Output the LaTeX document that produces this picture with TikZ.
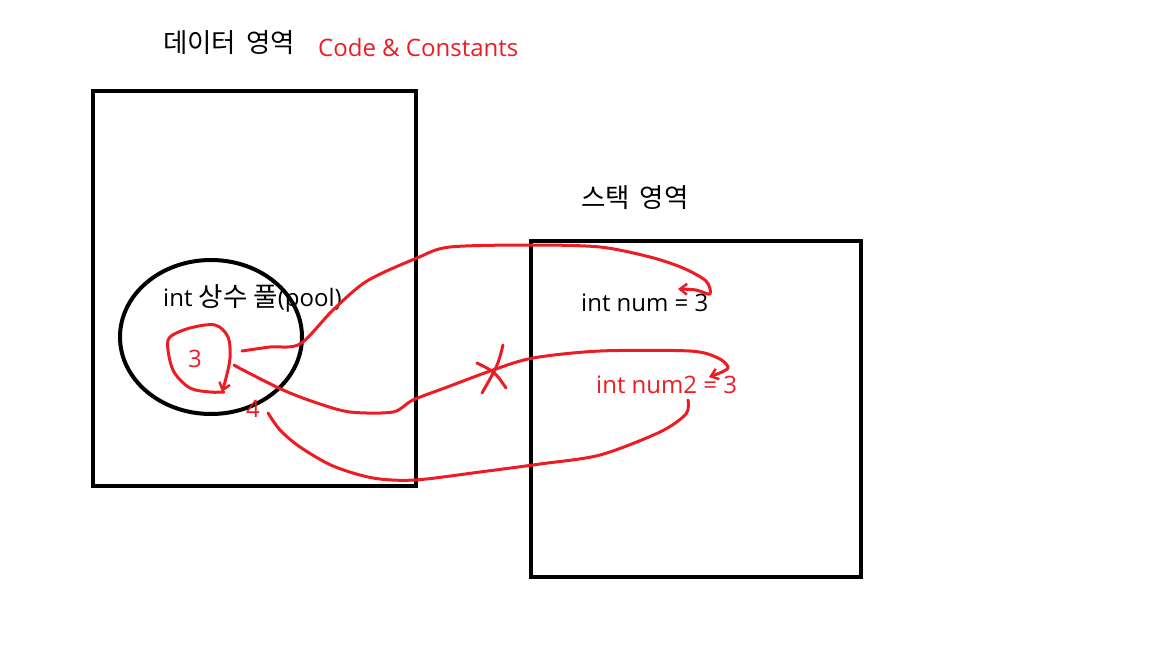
\documentclass[tikz,border=0pt]{standalone}
\usepackage{fontspec}
\setmainfont{Open Sans}
\newfontfamily\krfont{Noto Sans CJK KR}
\newcommand{\kr}{\krfont\fontsize{26.5}{30}\selectfont}
\usetikzlibrary{arrows.meta}
\definecolor{pred}{HTML}{ED1C24}
\tikzset{
  box/.style={draw=black,line width=4.5pt},
  lbl/.style={inner sep=0pt,anchor=base west,font=\fontsize{24}{28}\selectfont},
  redlbl/.style={lbl,text=pred},
  stroke/.style={draw=pred,line width=3pt,line cap=round,line join=round},
  barb/.style={-{Straight Barb[length=7pt,width=11pt,line width=2.5pt]}}
}
\begin{document}
\begin{tikzpicture}[x=1pt,y=-1pt]
\useasboundingbox (0,0) rectangle (1152,648);
% boxes
\draw[box] (93,91) rectangle (416,486);
\draw[box] (531,241) rectangle (861,577);
\draw[draw=black,line width=4pt] (211,337) ellipse [x radius=91,y radius=77];
% labels
\node[lbl] (data) at (163,52) {\kr 데이터\hspace{4pt} 영역};
\node[redlbl] (code) at (318,56) {Code \& Constants};
\node[lbl] (stack) at (581,207) {\kr 스택\hspace{4pt} 영역};
\node[lbl] (pool) at (163,306) {int {\kr 상수 풀}(pool)};
\node[lbl] (num) at (581,311) {int num = 3};
\node[redlbl] (num2) at (596,393) {int num2 = 3};
\node[redlbl] (three) at (188,367) {3};
\node[redlbl] (four) at (246,417) {4};
% loop around 3
\draw[stroke,barb] plot[smooth,tension=0.55] coordinates {(224,392) (210,392) (190,388) (174,372) (168,350) (170,337) (190,328) (215,325) (228,337) (230,358) (226,378) (222,392)};
% 3 -> int num
\draw[stroke,barb] plot[smooth,tension=0.5] coordinates {(242,351) (270,347) (300,344) (333,310) (367,281) (417,258) (450,247) (533,245) (600,247) (650,257) (683,268) (706,281) (710,294) (696,290) (678,289)};
% 3 -> int num2 (crossed)
\draw[stroke,barb] plot[smooth,tension=0.5] coordinates {(234,365) (243,370) (283,390) (317,403) (350,412) (393,412) (413,400) (450,386) (493,370) (533,358) (600,351) (690,351) (718,358) (728,367) (722,372) (709,377)};
% cross mark
\draw[stroke] (503,345) .. controls (498,365) .. (482,393);
\draw[stroke] (477,363) .. controls (495,372) .. (506,388);
% int num2 -> 4
\draw[stroke] plot[smooth,tension=0.5] coordinates {(688,400) (686,414) (660,432) (600,455) (540,464) (480,472) (415,480) (373,478) (333,466) (300,447) (280,430) (268,413)};
\end{tikzpicture}
\end{document}
